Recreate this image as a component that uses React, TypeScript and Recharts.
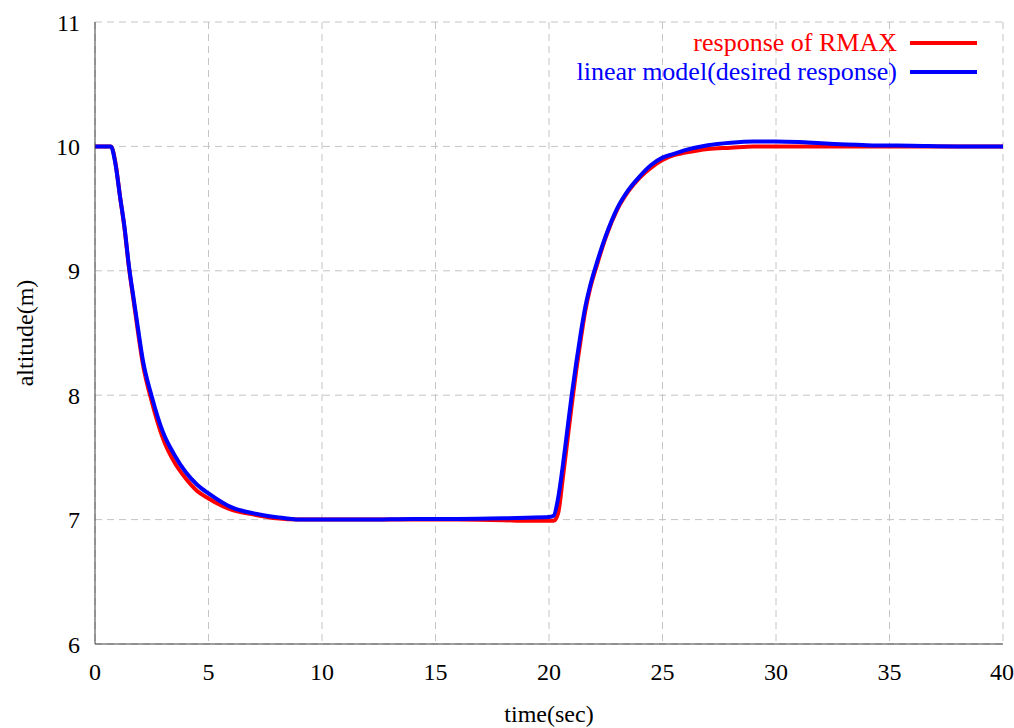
import React from 'react';
import {
  LineChart,
  Line,
  XAxis,
  YAxis,
  CartesianGrid,
  Legend,
} from 'recharts';

const time = [
  0, 0.5, 0.7, 0.9, 1.1, 1.3, 1.5, 1.7, 1.9, 2.1, 2.5, 3, 3.5, 4, 4.5, 5, 5.5, 6, 7, 8, 9, 10, 12, 14,
  16, 18, 19, 20, 20.2, 20.4, 20.6, 20.8, 21, 21.2, 21.4, 21.6, 21.8, 22.1, 22.5, 23, 23.5, 24, 24.5,
  25, 25.5, 26, 27, 28, 29, 30, 31, 32, 34, 36, 38, 40,
];

const rmax = [
  10, 10, 10, 9.87, 9.6, 9.34, 9.02, 8.76, 8.5, 8.26, 7.95, 7.65, 7.46, 7.33, 7.23, 7.17, 7.12, 7.08,
  7.04, 7.01, 7.0, 7.0, 7.0, 7.0, 7.0, 6.995, 6.99, 6.99, 6.99, 7.05, 7.32, 7.62, 7.92, 8.2, 8.45,
  8.68, 8.85, 9.04, 9.27, 9.49, 9.64, 9.75, 9.83, 9.89, 9.93, 9.95, 9.98, 9.99, 10.0, 10.0, 10.0,
  10.0, 10.0, 10.0, 10.0, 10.0,
];

const linearModel = [
  10, 10, 10, 9.86, 9.6, 9.35, 9.03, 8.78, 8.53, 8.29, 7.99, 7.7, 7.52, 7.38, 7.28, 7.21, 7.15, 7.1,
  7.05, 7.02, 7.0, 7.0, 7.0, 7.005, 7.005, 7.01, 7.015, 7.02, 7.03, 7.17, 7.42, 7.71, 8.0, 8.26,
  8.5, 8.71, 8.87, 9.06, 9.28, 9.5, 9.65, 9.76, 9.85, 9.91, 9.94, 9.97, 10.01, 10.03, 10.04, 10.04,
  10.035, 10.025, 10.01, 10.005, 10.0, 10.0,
];

const xTicks = [0, 5, 10, 15, 20, 25, 30, 35, 40];
const yTicks = [6, 7, 8, 9, 10, 11];

const seriesNames = ['response of RMAX', 'linear model(desired response)'];
const seriesColors = ['#ff0000', '#0000ff'];

const data = time.map((t, i) => ({ t, rmax: rmax[i], linear: linearModel[i] }));

const FONT = '"Liberation Serif", "DejaVu Serif", serif';
const FS = 24;
const FRAME = '#404040';

const LegendBox = () => (
  <div style={{ fontFamily: FONT, fontSize: 26, lineHeight: 1 }}>
    {seriesNames.map((name, i) => (
      <div
        key={name}
        style={{
          display: 'flex',
          justifyContent: 'flex-end',
          alignItems: 'center',
          height: 29,
          color: seriesColors[i],
        }}
      >
        <span>{name}</span>
        <span
          style={{
            display: 'inline-block',
            width: 67,
            height: 4,
            marginLeft: 13,
            background: seriesColors[i],
          }}
        />
      </div>
    ))}
  </div>
);

const YLabel = (props: any) => {
  const vb = props.viewBox || {};
  const cx = vb.x - 10;
  const cy = vb.y + vb.height / 2;
  return (
    <text
      x={cx}
      y={cy}
      transform={`rotate(-90 ${cx} ${cy})`}
      textAnchor="middle"
      dominantBaseline="central"
      fontFamily={FONT}
      fontSize={FS}
      fill="#000"
    >
      altitude(m)
    </text>
  );
};

export default function App() {
  const tickStyle = { fontFamily: FONT, fontSize: FS, fill: '#000' };
  return (
    <div style={{ position: 'absolute', left: 0, top: 0, background: '#fff' }}>
      <LineChart
        width={1014}
        height={728}
        data={data}
        margin={{ top: 22, right: 11, bottom: 0, left: 35 }}
      >
        <CartesianGrid stroke="#c4c4c4" strokeDasharray="7 5" />
        <XAxis
          dataKey="t"
          type="number"
          domain={[0, 40]}
          ticks={xTicks}
          tick={tickStyle}
          tickLine={false}
          tickMargin={13}
          height={84}
          axisLine={{ stroke: FRAME }}
          label={{
            value: 'time(sec)',
            position: 'insideBottom',
            offset: 6,
            style: { fontFamily: FONT, fontSize: FS, fill: '#000' },
          }}
        />
        <XAxis
          xAxisId="top"
          dataKey="t"
          type="number"
          orientation="top"
          domain={[0, 40]}
          ticks={xTicks}
          height={0}
          mirror
          tick={false}
          tickSize={5}
          axisLine={{ stroke: FRAME }}
          tickLine={{ stroke: FRAME }}
        />
        <YAxis
          type="number"
          domain={[6, 11]}
          ticks={yTicks}
          width={60}
          tick={tickStyle}
          tickLine={false}
          tickMargin={9}
          axisLine={{ stroke: FRAME }}
          label={{ content: YLabel }}
        />
        <YAxis
          yAxisId="right"
          orientation="right"
          type="number"
          domain={[6, 11]}
          ticks={yTicks}
          width={0}
          mirror
          tick={false}
          tickSize={5}
          axisLine={{ stroke: FRAME }}
          tickLine={{ stroke: FRAME }}
        />
        <Legend
          layout="vertical"
          align="center"
          verticalAlign="middle"
          content={<LegendBox />}
          wrapperStyle={{ position: 'absolute', top: 28, left: 517, width: 460, height: 58 }}
        />
        <Line
          type="monotone"
          dataKey="rmax"
          stroke={seriesColors[0]}
          strokeWidth={4}
          dot={false}
          isAnimationActive={false}
        />
        <Line
          type="monotone"
          dataKey="linear"
          stroke={seriesColors[1]}
          strokeWidth={4}
          dot={false}
          isAnimationActive={false}
        />
      </LineChart>
    </div>
  );
}
